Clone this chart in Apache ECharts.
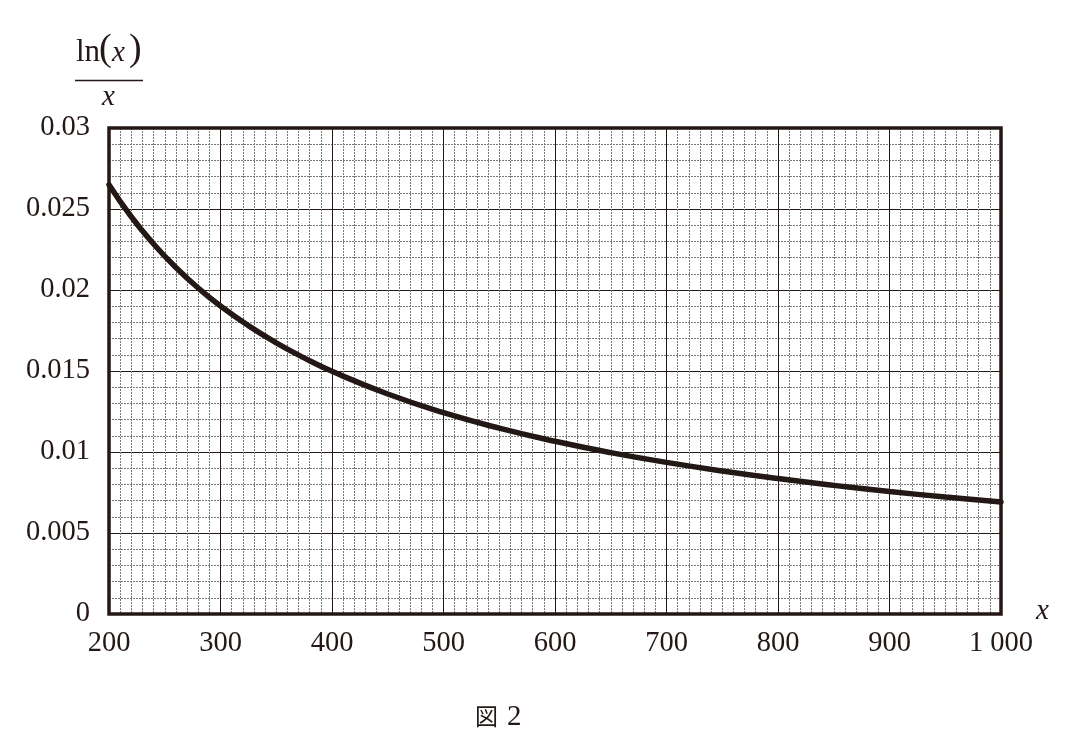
<!DOCTYPE html>
<html><head><meta charset="utf-8">
<script src="https://cdn.jsdelivr.net/npm/echarts@6/dist/echarts.min.js"></script>
<style>html,body{margin:0;padding:0;background:#fff}#c{width:1070px;height:743px}</style>
</head><body><div id="c"></div>
<script>
const xValues = [200,220,240,260,280,300,325,350,375,400,450,500,550,600,650,700,750,800,850,900,950,1000];
const yValues = [0.0265,0.02452,0.02284,0.02139,0.02012,0.01901,0.0178,0.01674,0.01581,0.01498,0.01358,0.01243,0.01147,0.01066,0.00996,0.00936,0.00883,0.00836,0.00794,0.00756,0.00722,0.00691];
const yTickLabels = ['0','0.005','0.01','0.015','0.02','0.025','0.03'];
const xTickLabels = {200:'200',300:'300',400:'400',500:'500',600:'600',700:'700',800:'800',900:'900',1000:'1 000'};

const ink = '#231815';
const serif = '"Liberation Serif","DejaVu Serif",serif';
const chart = echarts.init(document.getElementById('c'), null, {renderer:'canvas'});
chart.setOption({
  animation:false,
  backgroundColor:'#fff',
  grid:{left:109,right:69,top:128,bottom:129,show:true,borderColor:ink,borderWidth:3.5,backgroundColor:'transparent',z:5},
  xAxis:{type:'value',min:200,max:1000,interval:100,
    axisLine:{show:false},axisTick:{show:false},
    axisLabel:{formatter:v=>xTickLabels[v]||'',color:ink,fontFamily:serif,fontSize:28.5,margin:15},
    splitLine:{show:true,lineStyle:{color:'#231815',width:1}},
    minorTick:{show:false,splitNumber:10},
    minorSplitLine:{show:true,lineStyle:{color:'#7a7a7a',width:1,type:[2,1]}}
  },
  yAxis:{type:'value',min:0,max:0.03,interval:0.005,
    axisLine:{show:false},axisTick:{show:false},
    axisLabel:{formatter:v=>yTickLabels[Math.round(v/0.005)],color:ink,fontFamily:serif,fontSize:28.5,margin:19},
    splitLine:{show:true,lineStyle:{color:'#231815',width:1}},
    minorTick:{show:false,splitNumber:5},
    minorSplitLine:{show:true,lineStyle:{color:'#7a7a7a',width:1,type:[2,1]}}
  },
  graphic:[
    {type:'text',left:76,top:37,style:{text:'ln',font:'31px '+serif,fill:ink}},
    {type:'text',left:99,top:31,style:{text:'(',font:'38px '+serif,fill:ink}},
    {type:'text',left:112,top:39,style:{text:'x',font:'italic 29px '+serif,fill:ink}},
    {type:'text',left:129,top:31,style:{text:')',font:'38px '+serif,fill:ink}},
    {type:'line',shape:{x1:75,y1:80.5,x2:143,y2:80.5},style:{stroke:ink,lineWidth:1.5}},
    {type:'text',left:102,top:83,style:{text:'x',font:'italic 29px '+serif,fill:ink}},
    {type:'text',left:1036,top:597,style:{text:'x',font:'italic 29px '+serif,fill:ink}},
    {type:'text',left:475,top:705,style:{text:'図',font:'23px "Noto Sans CJK JP"',fill:ink}},
    {type:'text',left:507,top:703,style:{text:'2',font:'29px '+serif,fill:ink}}
  ],
  series:[{type:'line',smooth:true,symbol:'none',z:10,
    data:xValues.map((x,i)=>[x,yValues[i]]),
    lineStyle:{color:ink,width:5.5,cap:'round'}}]
});
</script></body></html>
